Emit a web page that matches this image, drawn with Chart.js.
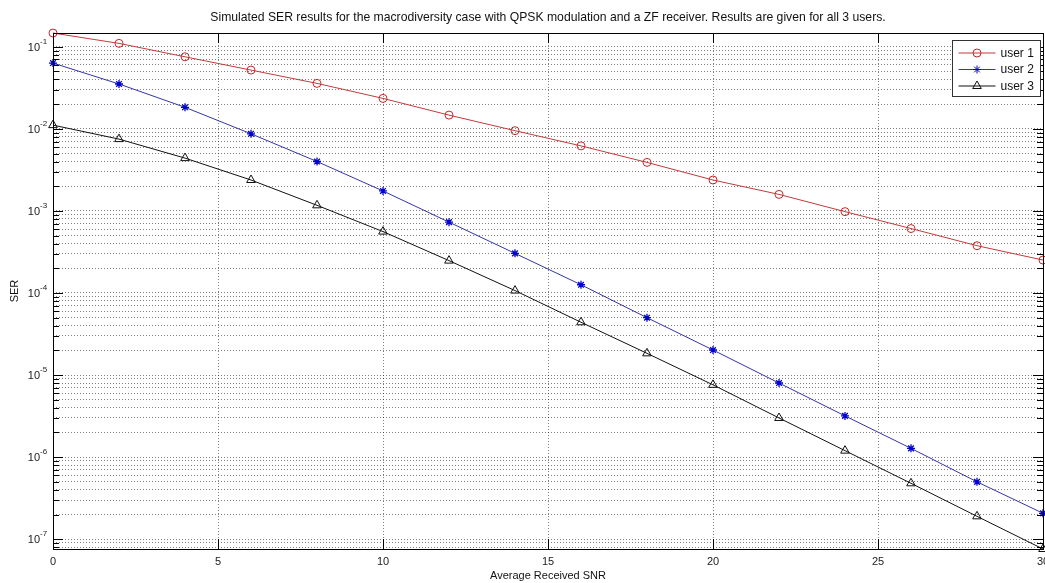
<!DOCTYPE html>
<html>
<head>
<meta charset="utf-8">
<title>SER macrodiversity</title>
<script src="https://cdn.jsdelivr.net/npm/chart.js@4.4.0/dist/chart.umd.min.js"></script>
<style>
  html, body { margin: 0; padding: 0; background: #fff; }
  #wrap { width: 1045px; height: 583px; }
</style>
</head>
<body>
<div id="wrap"><canvas id="serChart" width="1045" height="583"></canvas></div>
<script>
// datos
const snr   = [0, 2, 4, 6, 8, 10, 12, 14, 16, 18, 20, 22, 24, 26, 28, 30];
const user1 = [0.147, 0.110, 0.0755, 0.052, 0.0358, 0.0235, 0.0147, 0.0095, 0.0062, 0.0039,
               0.00238, 0.00159, 0.00098, 0.00061, 0.000377, 0.000252];
const user2 = [0.0633, 0.0352, 0.0183, 0.0087, 0.0040, 0.00175, 0.00073, 0.000304, 0.000126, 0.000050,
               0.0000202, 0.0000080, 0.00000318, 0.00000128, 0.00000050, 0.000000207];
const user3 = [0.0111, 0.0075, 0.0044, 0.00238, 0.00117, 0.00056, 0.000248, 0.000107, 0.000044, 0.0000184,
               0.0000076, 0.0000030, 0.0000012, 0.00000048, 0.00000019, 0.000000076];

const seriesNames = ['user 1', 'user 2', 'user 3'];
const xTicks   = [0, 5, 10, 15, 20, 25, 30];
const yDecades = [-8, -7, -6, -5, -4, -3, -2, -1];
const yMin = 7.6e-8, yMax = 0.147;

const FONT = "'Liberation Sans', Arial, Helvetica, sans-serif";

// ticks del eje log: 1..9 x 10^n dentro del rango
function logTicks() {
  const out = [];
  yDecades.forEach(e => {
    for (let k = 1; k <= 9; k++) {
      const v = k * Math.pow(10, e);
      if (v >= yMin * 0.999 && v <= yMax * 1.001) out.push({ value: v, major: k === 1 });
    }
  });
  return out;
}

function toPoints(ys) {
  return snr.map((x, i) => ({ x: x, y: ys[i] }));
}

// caja, marcas y etiquetas estilo MATLAB
const matlabAxes = {
  id: 'matlabAxes',
  afterDatasetsDraw(chart) {
    const { ctx, chartArea: a } = chart;
    const xs = chart.scales.x, ys = chart.scales.y;
    ctx.save();
    ctx.strokeStyle = '#000';
    ctx.lineWidth = 1;
    ctx.beginPath();
    ys.ticks.forEach(t => {
      const y = Math.round(ys.getPixelForValue(t.value)) + 0.5;
      const len = t.major ? 10 : 6;
      ctx.moveTo(a.left, y); ctx.lineTo(a.left + len, y);
      ctx.moveTo(a.right, y); ctx.lineTo(a.right - len, y);
    });
    xTicks.forEach(v => {
      const x = Math.round(xs.getPixelForValue(v)) + 0.5;
      ctx.moveTo(x, a.bottom); ctx.lineTo(x, a.bottom - 10);
      ctx.moveTo(x, a.top); ctx.lineTo(x, a.top + 10);
    });
    ctx.stroke();
    ctx.strokeRect(Math.round(a.left) + 0.5, Math.round(a.top) + 0.5,
                   Math.round(a.right - a.left), Math.round(a.bottom - a.top));

    ctx.fillStyle = '#222';
    // etiquetas eje x
    ctx.font = '11px ' + FONT;
    ctx.textAlign = 'center';
    ctx.textBaseline = 'middle';
    xTicks.forEach(v => {
      ctx.fillText(String(v), xs.getPixelForValue(v), a.bottom + 13);
    });
    // etiquetas 10^n
    ys.ticks.filter(t => t.major).forEach(t => {
      const y = ys.getPixelForValue(t.value);
      const e = Math.round(Math.log10(t.value));
      ctx.font = '11px ' + FONT;
      ctx.textAlign = 'right';
      ctx.textBaseline = 'middle';
      ctx.fillText('10', a.left - 13, y + 1);
      ctx.font = '8px ' + FONT;
      ctx.textAlign = 'left';
      ctx.fillText(String(e), a.left - 13, y - 5);
    });
    ctx.restore();
  },
  afterDraw(chart) {
    const { ctx, chartArea: a } = chart;
    const w = 88, h = 56;
    const bx = Math.round(a.right - 3 - w) + 0.5, by = Math.round(a.top + 7) + 0.5;
    ctx.save();
    ctx.fillStyle = '#fff';
    ctx.fillRect(bx, by, w, h);
    ctx.strokeStyle = '#333';
    ctx.lineWidth = 1;
    ctx.strokeRect(bx, by, w, h);
    chart.data.datasets.forEach((ds, i) => {
      const y = by + 12.5 + i * 16.5;
      ctx.strokeStyle = ds.borderColor;
      ctx.beginPath();
      ctx.moveTo(bx + 6, y); ctx.lineTo(bx + 43, y);
      ctx.stroke();
      ctx.strokeStyle = ds.pointBorderColor;
      ctx.fillStyle = 'rgba(0,0,0,0)';
      Chart.helpers.drawPoint(ctx, {
        pointStyle: ds.pointStyle, radius: ds.pointRadius,
        borderWidth: ds.pointBorderWidth, rotation: 0
      }, bx + 24.5, y);
      ctx.fillStyle = '#111';
      ctx.font = '12px ' + FONT;
      ctx.textAlign = 'left';
      ctx.textBaseline = 'middle';
      ctx.fillText(ds.label, bx + 48, y + 0.5);
    });
    ctx.restore();
  }
};

const gridStyle = { color: 'rgba(0,0,0,0.5)', lineWidth: 1, drawTicks: false };

const chart = new Chart(document.getElementById('serChart'), {
  type: 'line',
  data: {
    datasets: [
      {
        label: seriesNames[0], data: toPoints(user1),
        borderColor: '#c23b3b', borderWidth: 1, pointStyle: 'circle', pointRadius: 4,
        pointBorderColor: '#c42a2a', pointBackgroundColor: 'rgba(0,0,0,0)', pointBorderWidth: 1
      },
      {
        label: seriesNames[1], data: toPoints(user2),
        borderColor: '#3434a8', borderWidth: 1, pointStyle: 'star', pointRadius: 4,
        pointBorderColor: '#0000d0', pointBackgroundColor: 'rgba(0,0,0,0)', pointBorderWidth: 1.3
      },
      {
        label: seriesNames[2], data: toPoints(user3),
        borderColor: '#111', borderWidth: 1, pointStyle: 'triangle', pointRadius: 5,
        pointBorderColor: '#111', pointBackgroundColor: 'rgba(0,0,0,0)', pointBorderWidth: 1
      }
    ]
  },
  options: {
    responsive: false,
    animation: false,
    clip: false,
    layout: { autoPadding: false, padding: { left: 0, right: 2, top: 0, bottom: 0 } },
    elements: { line: { tension: 0 } },
    plugins: {
      legend: { display: false },
      tooltip: { enabled: false },
      title: {
        display: true,
        fullSize: false,
        text: 'Simulated SER results for the macrodiversity case with QPSK modulation and a ZF receiver. Results are given for all 3 users.',
        color: '#111',
        font: { family: FONT, size: 12.2, weight: 'normal', lineHeight: 1.2 },
        padding: { top: 10.4, bottom: 8 }
      }
    },
    scales: {
      x: {
        type: 'linear', min: 0, max: 30,
        afterBuildTicks: s => { s.ticks = xTicks.map(v => ({ value: v })); },
        afterFit: s => { s.height = 34; },
        ticks: { display: false },
        grid: gridStyle,
        border: { display: false, dash: [1, 2] },
        title: {
          display: true, text: 'Average Received SNR', color: '#111',
          font: { family: FONT, size: 11 }, padding: { top: 0, bottom: 0 }
        }
      },
      y: {
        type: 'logarithmic', min: yMin, max: yMax, bounds: 'data',
        afterBuildTicks: s => { s.ticks = logTicks(); },
        afterFit: s => { s.width = 53; },
        ticks: { display: false },
        grid: gridStyle,
        border: { display: false, dash: [1, 2] },
        title: {
          display: true, text: 'SER', color: '#111',
          font: { family: FONT, size: 11 }, padding: { top: 8, bottom: 0 }
        }
      }
    }
  },
  plugins: [matlabAxes]
});
</script>
</body>
</html>
